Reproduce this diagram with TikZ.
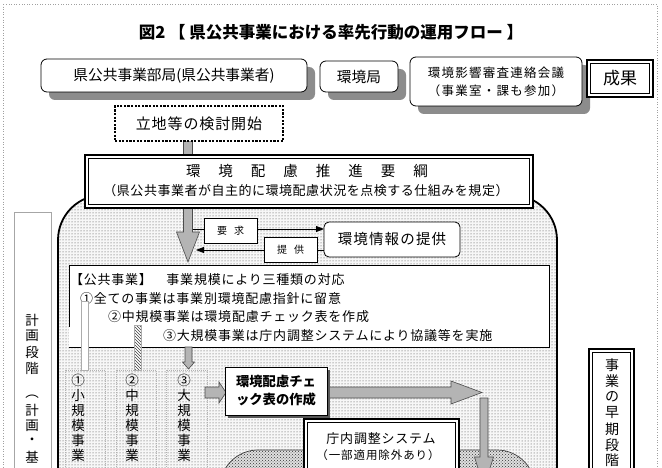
\documentclass[tikz,border=0pt]{standalone}
\usepackage{fontspec}
\setmainfont{Noto Sans CJK JP}
\usetikzlibrary{patterns,shadows,calc,arrows.meta}
\definecolor{shadowgray}{HTML}{8C8C8C}
\definecolor{arrowgray}{HTML}{B4B4B4}
\definecolor{framegray}{HTML}{A0A0A0}
\newcommand\fsz[2]{\fontsize{#1pt}{#2pt}\selectfont}
\newcommand\lsp[1]{\addfontfeature{LetterSpace=#1}}
\begin{document}
\begin{tikzpicture}[x=1pt,y=-1pt,
  every node/.style={inner sep=0pt, outer sep=0pt},
  rowbox/.style={draw=black, line width=0.8pt, fill=white, rounded corners=6pt, anchor=north west,
    drop shadow={shadow xshift=8pt, shadow yshift=-8pt, fill=shadowgray, opacity=1}},
  dbox/.style={draw=black, line width=1.6pt, fill=white, anchor=north west},
  innerframe/.style={draw=black, line width=0.7pt},
  dotbox/.style={draw=black, line width=2.2pt, dash pattern=on 2.2pt off 1.4pt, fill=white, anchor=north west},
  lblbox/.style={draw=black, line width=0.7pt, fill=white, anchor=north west, minimum width=53pt, minimum height=25pt, font=\fsz{10}{12}},
  thinarrow/.style={line width=0.8pt, -{Triangle[length=8pt,width=6pt]}},
  fatarrow/.style={fill=arrowgray, draw=black!70, line width=0.6pt, line join=miter},
  colbox/.style={draw=gray!60, line width=0.6pt, dash pattern=on 1pt off 1pt, anchor=north west, minimum width=40pt, minimum height=140pt},
  vchar/.style={font=\fsz{13.5}{15}},
  pubtext/.style={anchor=west, font={\fsz{13}{15}\lsp{6}}}
]
\useasboundingbox (0,0) rectangle (662,468);
\clip (0,0) rectangle (662,468);
\fill[white] (0,0) rectangle (662,468);
% outer frame
\draw[framegray, dotted, line width=0.6pt] (3,4) rectangle (657,540);

% title
\node[font=\fsz{16.5}{20}\bfseries] (title) at (331,32) {図2 【 県公共事業における率先行動の運用フロー 】};

% top row
\node[rowbox, minimum width=266pt, minimum height=33pt, font=\fsz{14.7}{17}] (dept) at (41,59) {県公共事業部局(県公共事業者)};
\node[rowbox, minimum width=78pt, minimum height=31pt, font=\fsz{14.7}{17}] (envb) at (320,61) {環境局};
\node[rowbox, minimum width=172pt, minimum height=49pt, align=center, font={\fsz{12.5}{18}\lsp{10}}] (council) at (410,57) {環境影響審査連絡会議\\（事業室・課も参加）};
\node[dbox, minimum width=66pt, minimum height=37pt, font=\fsz{17}{20}] (result) at (587,60) {成果};
\draw[innerframe] ($(result.north west)+(3.5,3.5)$) rectangle ($(result.south east)+(-3.5,-3.5)$);

% left strip and right box
\draw[gray!70, line width=0.7pt] (14,212) rectangle (51,540);
\foreach \c/\y [count=\i] in {計/320,画/336,段/352,階/368,︵/397,計/410,画/426,・/441,基/457}
  \node[vchar] (plan\i) at (32,\y) {\c};

% big region
\path[draw=black, line width=1.8pt, rounded corners=45pt, preaction={fill=gray!6}, pattern=dots, pattern color=black!75] (58,195) rectangle (557,560);

% big down arrow
\draw[fatarrow] (183.5,141) -- (192.5,141) -- (192.5,232) -- (199.5,232) -- (188,262) -- (176.5,232) -- (183.5,232) -- cycle;

% start box
\node[dotbox, minimum width=168pt, minimum height=35pt, font={\fsz{15}{17}\lsp{6}}] (start) at (115,106) {立地等の検討開始};

% youkou box
\node[dbox, minimum width=448pt, minimum height=53pt] (youkou) at (85,155) {};
\draw[innerframe] ($(youkou.north west)+(3.5,3.5)$) rectangle ($(youkou.south east)+(-3.5,-3.5)$);
\node[font=\fsz{14.5}{16}] (youkouA) at (307,171) {環\kern18pt 境\kern18pt 配\kern18pt 慮\kern18pt 推\kern18pt 進\kern18pt 要\kern18pt 綱};
\node[font={\fsz{13}{15}\lsp{4}}] (youkouB) at (306,191) {（県公共事業者が自主的に環境配慮状況を点検する仕組みを規定）};

% info box and request/provide
\node[draw=black, line width=0.8pt, rounded corners=5pt, fill=white, anchor=north west, minimum width=136pt, minimum height=35pt, font={\fsz{14.5}{17}\lsp{8}}] (info) at (324,222) {環境情報の提供};
\coordinate (reqstart) at (192.5,229);
\coordinate (provend) at (196,250);
\draw[thinarrow] (reqstart) -- (reqstart -| info.west);
\draw[thinarrow] (provend -| info.west) -- (provend);
\node[lblbox] (req) at (204,218) {要\kern7pt 求};
\node[lblbox] (prov) at (264,237) {提\kern7pt 供};

% public works box
\node[fill=white, anchor=north west, minimum width=480pt, minimum height=82pt] (pub) at (69,265) {};
\draw[line width=0.8pt] ($(pub.north west)+(0,62)$) -- (pub.north west) -- (pub.north east) -- (pub.south east) -- (pub.south west);
\node[pubtext] (l1) at (70,280) {【公共事業】　事業規模により三種類の対応};
\node[pubtext] (l2) at (80,299) {①全ての事業は事業別環境配慮指針に留意};
\node[pubtext] (l3) at (108,317) {②中規模事業は環境配慮チェック表を作成};
\node[pubtext] (l4) at (163,336) {③大規模事業は庁内調整システムにより協議等を実施};

% bars
\draw[gray!65, line width=0.8pt, fill=white] (81,301) rectangle (88,370);
\draw[gray!65, line width=0.8pt, preaction={fill=white}, pattern=north west lines, pattern color=black!75] (134,325) rectangle (141,370);
\draw[fatarrow] (185,347) -- (192,347) -- (192,362) -- (194.5,362) -- (188.5,369) -- (182.5,362) -- (185,362) -- cycle;

% scale columns
\node[colbox] (small) at (65,370) {};
\node[colbox] (mid) at (116,370) {};
\node[colbox, minimum width=41pt] (large) at (166,370) {};
\foreach \c/\y [count=\i] in {①/380,小/395,規/410,模/425,事/440,業/455}
  \node[vchar] (sa\i) at (78,\y) {\c};
\foreach \c/\y [count=\i] in {②/380,中/395,規/410,模/425,事/440,業/455}
  \node[vchar] (mb\i) at (132,\y) {\c};
\foreach \c/\y [count=\i] in {③/380,大/395,規/410,模/425,事/440,業/455}
  \node[vchar] (lc\i) at (184,\y) {\c};

% shaded lower region
\path[draw=gray!50!black, line width=0.7pt, rounded corners=38pt, preaction={fill=gray!25}, pattern=crosshatch dots, pattern color=black!80] (220,450) rectangle (535,560);

% arrows around check box
\draw[fatarrow] (205,387) -- (219,387) -- (219,382) -- (226,392.5) -- (219,403) -- (219,398) -- (205,398) -- cycle;
\draw[fatarrow] (320,387) -- (451,387) -- (451,381) -- (482,392.5) -- (451,404) -- (451,398) -- (320,398) -- cycle;
\draw[fatarrow] (480,398) -- (488,398) -- (488,457) -- (493.5,457) -- (484,487) -- (474.5,457) -- (480,457) -- cycle;

% check box
\node[draw=black, line width=0.8pt, fill=white, anchor=north west, minimum width=102pt, minimum height=48pt, align=center,
  font=\fsz{13.3}{18}\bfseries, drop shadow={shadow xshift=3pt, shadow yshift=-3pt, fill=gray!70!black, opacity=1}] (check) at (225,367) {環境配慮チェ\\ック表の作成};

% chonai box
\node[dbox, minimum width=155pt, minimum height=80pt] (chonai) at (304,419) {};
\draw[innerframe] ($(chonai.north west)+(3.5,3.5)$) rectangle ($(chonai.south east)+(-3.5,-3.5)$);
\node[font={\fsz{13}{15}\lsp{6}}] (chonaiA) at (381,439) {庁内調整システム};
\node[font={\fsz{11.5}{14}\lsp{8}}] (chonaiB) at (378,455) {（一部適用除外あり）};

% early stage box
\node[dbox, minimum width=45pt, minimum height=160pt] (early) at (589,349) {};
\draw[innerframe] ($(early.north west)+(3.5,3.5)$) rectangle ($(early.south east)+(-3.5,-3.5)$);
\foreach \c/\y [count=\i] in {事/365,業/381,の/397,早/413,期/429,段/445,階/460}
  \node[vchar, font=\fsz{14}{16}] (ea\i) at (612,\y) {\c};
\end{tikzpicture}
\end{document}
